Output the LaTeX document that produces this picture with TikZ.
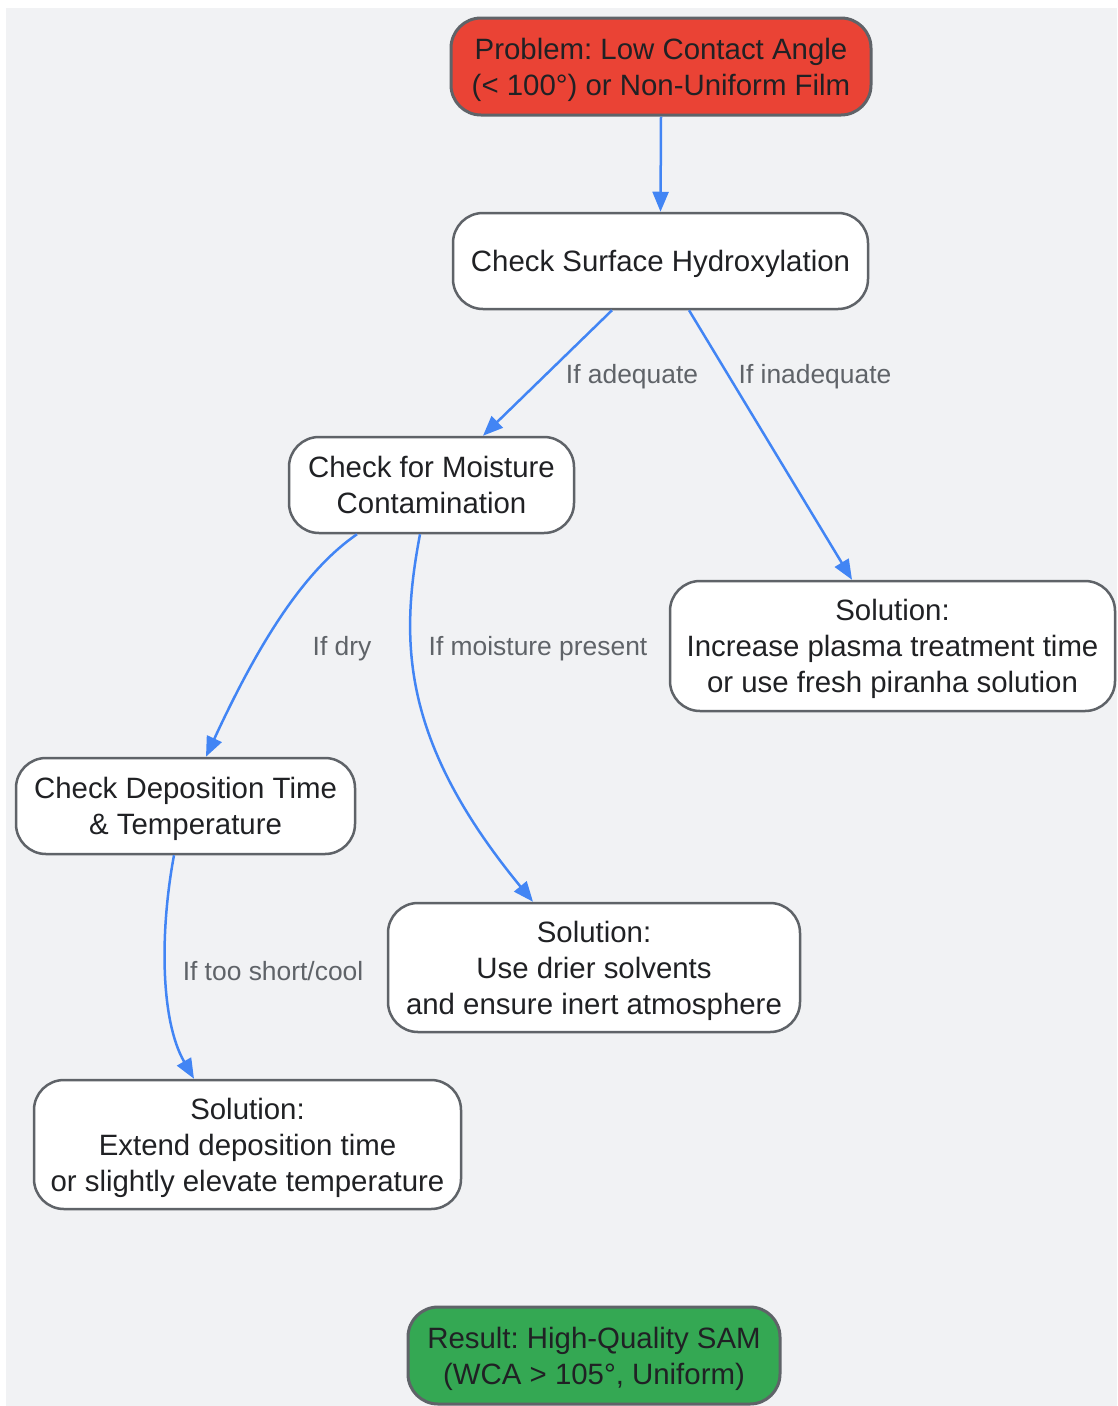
\documentclass[tikz,border=0pt]{standalone}
\usepackage{fontspec}
\setmainfont{Liberation Sans}
\frenchspacing
\usetikzlibrary{arrows.meta}
\definecolor{bgc}{HTML}{F1F2F4}
\definecolor{strokec}{HTML}{5F6368}
\definecolor{redc}{HTML}{EA4335}
\definecolor{greenc}{HTML}{34A853}
\definecolor{edgec}{HTML}{4285F4}
\definecolor{txtc}{HTML}{202124}
\definecolor{lblc}{HTML}{5F6368}
\newcommand{\mystrut}{\rule[-7pt]{0pt}{35pt}}
\tikzset{
  box/.style={rectangle, rounded corners=30pt, draw=strokec, line width=2.5pt, fill=white,
    align=center, text=txtc, font=\fontsize{29.4}{36}\selectfont\frenchspacing, inner sep=0pt,
    text depth=7pt},
  onebox/.style={box, execute at begin node=\mystrut},
  twobox/.style={box, text height=64pt},
  threebox/.style={box, text height=100pt},
  redbox/.style={twobox, fill=redc, line width=3pt},
  greenbox/.style={twobox, fill=greenc, line width=3pt},
  conn/.style={draw=edgec, line width=2.5pt, -{Triangle[length=20pt,width=16pt]}},
  lbl/.style={text=lblc, font=\fontsize{26.4}{32}\selectfont, inner sep=0pt}
}
\begin{document}
\begin{tikzpicture}[x=1pt,y=-1pt]
\useasboundingbox (0,0) rectangle (1117,1406);
\fill[bgc] (6,8) rectangle (1117,1406);

\node[redbox, minimum width=420pt, minimum height=97pt] (p) at (661,66.5) {Problem: Low Contact Angle\\(< 100°) or Non-Uniform Film};
\node[onebox, minimum width=415pt, minimum height=96pt] (h) at (660.5,261) {Check Surface Hydroxylation};
\node[twobox, minimum width=285pt, minimum height=96pt] (m) at (431.5,485) {Check for Moisture\\Contamination};
\node[threebox, minimum width=445pt, minimum height=130pt] (s1) at (892.5,646) {Solution:\\Increase plasma treatment time\\or use fresh piranha solution};
\node[twobox, minimum width=339pt, minimum height=96pt] (d) at (185.5,806) {Check Deposition Time\\\& Temperature};
\node[threebox, minimum width=412pt, minimum height=129pt] (s2) at (594,967.5) {Solution:\\Use drier solvents\\and ensure inert atmosphere};
\node[threebox, minimum width=427pt, minimum height=129pt] (s3) at (247.5,1144.5) {Solution:\\Extend deposition time\\or slightly elevate temperature};
\node[greenbox, minimum width=372pt, minimum height=97pt] (r) at (594,1355.5) {Result: High-Quality SAM\\(WCA > 105°, Uniform)};

\draw[conn] (p.south) -- (h.north);
\draw[conn] ([xshift=-48.5pt]h.south) -- ([xshift=51.5pt]m.north);
\draw[conn] ([xshift=28.5pt]h.south) -- ([xshift=-40.5pt]s1.north);
\draw[conn] ([xshift=-74.5pt]m.south) .. controls (305,570) and (260,640) .. ([xshift=20.5pt]d.north);
\draw[conn] ([xshift=-11.5pt]m.south) .. controls (400,640) and (400,740) .. ([xshift=-61pt]s2.north);
\draw[conn] ([xshift=-11.5pt]d.south) .. controls (160,930) and (160,1020) .. ([xshift=-53.5pt]s3.north);

\node[lbl] (l1) at (632,377) {If adequate};
\node[lbl] (l2) at (815,377) {If inadequate};
\node[lbl] (l3) at (342,649) {If dry};
\node[lbl] (l4) at (538,649) {If moisture present};
\node[lbl] (l5) at (273,971) {If too short/cool};
\end{tikzpicture}
\end{document}
